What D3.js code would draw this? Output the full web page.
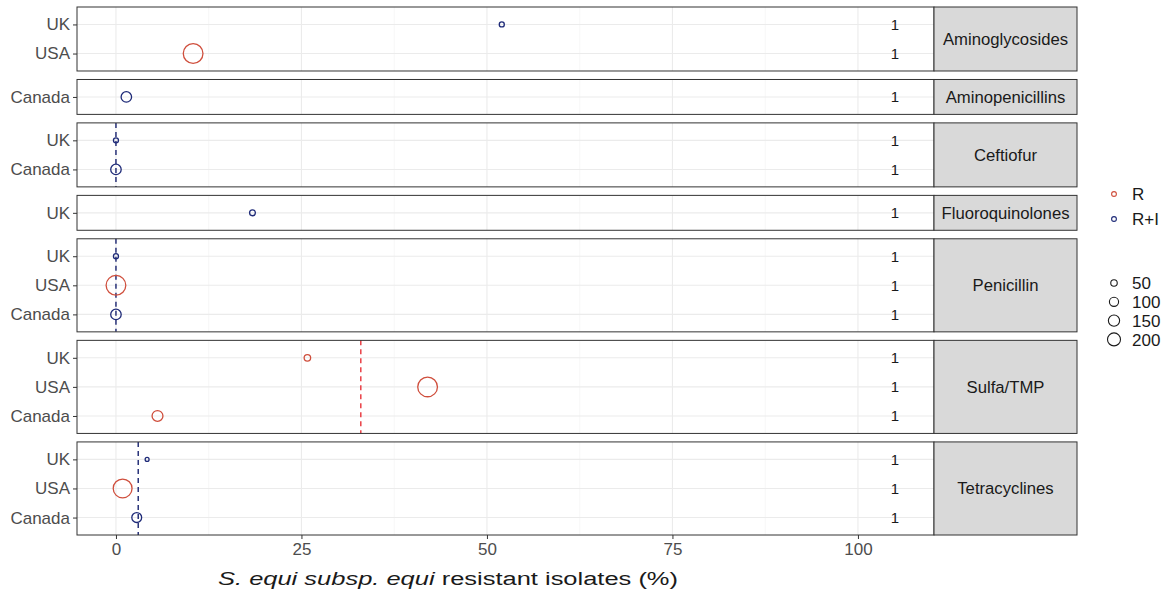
<!DOCTYPE html>
<html><head><meta charset="utf-8">
<script src="https://cdn.jsdelivr.net/npm/d3@7"></script>
<style>body{margin:0;background:#fff;} svg{display:block;font-family:"Liberation Sans",Arial,sans-serif;}</style>
</head><body>
<svg id="chart" width="1171" height="594"></svg>
<script>
// ---------- data ----------
const classes = ["Aminoglycosides","Aminopenicillins","Ceftiofur","Fluoroquinolones","Penicillin","Sulfa/TMP","Tetracyclines"];
const countryOrder = ["UK","USA","Canada"];
const pointClass   = ["Aminoglycosides","Aminoglycosides","Aminopenicillins","Ceftiofur","Ceftiofur","Fluoroquinolones","Penicillin","Penicillin","Penicillin","Sulfa/TMP","Sulfa/TMP","Sulfa/TMP","Tetracyclines","Tetracyclines","Tetracyclines"];
const pointCountry = ["UK","USA","Canada","UK","Canada","UK","UK","USA","Canada","UK","USA","Canada","UK","USA","Canada"];
const pointType    = ["R+I","R","R+I","R+I","R+I","R+I","R+I","R","R+I","R","R","R","R+I","R","R+I"];
const pointPct     = [52,10.4,1.4,0,0,18.4,0,0,0,25.8,42,5.6,4.2,0.9,2.8];
const pointN       = [30,460,130,30,130,40,30,460,130,50,460,140,18,420,115];
const rowLabel     = "1";
const labelPct     = 105;
const vlineClass   = ["Ceftiofur","Penicillin","Sulfa/TMP","Tetracyclines"];
const vlinePct     = [0,0,33,3];
const vlineType    = ["R+I","R+I","R","R+I"];
const xTicks       = [0,25,50,75,100];
const xMinor       = [12.5,37.5,62.5,87.5];
const typeLevels   = ["R","R+I"];
const sizeBreaks   = [50,100,150,200];
const xTitleItalic = "S. equi subsp. equi";
const xTitleRest   = " resistant isolates (%)";

// ---------- layout ----------
const pL = 77, pR = 934, sR = 1077, pT = 7, pB = 535, gap = 8.5;
const svg = d3.select("#chart");
const FONT = "Liberation Sans, Arial, sans-serif";

const points = pointClass.map((c,i)=>({cls:c, country:pointCountry[i], type:pointType[i], pct:pointPct[i], n:pointN[i]}));
const vlines = vlineClass.map((c,i)=>({cls:c, pct:vlinePct[i], type:vlineType[i]}));

const x = d3.scaleLinear().domain([-5.25, 110.25]).range([pL, pR]);
const color = d3.scaleOrdinal().domain(typeLevels).range(["#cf4e3c","#1e2a78"]);
const vcolor = d3.scaleOrdinal().domain(typeLevels).range(["#e8333a","#1a2470"]);
const r = d3.scaleSqrt().domain([0,200]).range([0,6.5]);

const panels = classes.map(c=>({cls:c, rows: countryOrder.filter(k=>points.some(p=>p.cls===c && p.country===k))}));
const totalUnits = d3.sum(panels, p=>p.rows.length + 0.2);
const unit = (pB - pT - gap*(panels.length-1)) / totalUnits;
let cy = pT;
panels.forEach(p=>{ p.top = cy; p.h = (p.rows.length+0.2)*unit; p.bottom = cy + p.h; cy = p.bottom + gap;
  p.y = d3.scalePoint().domain(p.rows).range([p.top, p.bottom]).padding(0.6); });

panels.forEach(p=>{
  const g = svg.append("g");
  g.append("rect").attr("x",pL).attr("y",p.top).attr("width",pR-pL).attr("height",p.h).attr("fill","#fff");
  g.selectAll(".minor").data(xMinor).join("line")
    .attr("x1",d=>x(d)).attr("x2",d=>x(d)).attr("y1",p.top).attr("y2",p.bottom)
    .attr("stroke","#f2f2f2").attr("stroke-width",0.6);
  g.selectAll(".major").data(xTicks).join("line")
    .attr("x1",d=>x(d)).attr("x2",d=>x(d)).attr("y1",p.top).attr("y2",p.bottom)
    .attr("stroke","#ebebeb").attr("stroke-width",1.1);
  g.selectAll(".hrow").data(p.rows).join("line")
    .attr("x1",pL).attr("x2",pR).attr("y1",d=>p.y(d)).attr("y2",d=>p.y(d))
    .attr("stroke","#ebebeb").attr("stroke-width",1.1);
  g.selectAll(".vl").data(vlines.filter(v=>v.cls===p.cls)).join("line")
    .attr("x1",d=>x(d.pct)).attr("x2",d=>x(d.pct)).attr("y1",p.top).attr("y2",p.bottom)
    .attr("stroke",d=>vcolor(d.type)).attr("stroke-width",1.4).attr("stroke-dasharray","5,4");
  g.selectAll(".pt").data(points.filter(d=>d.cls===p.cls)).join("circle")
    .attr("cx",d=>x(d.pct)).attr("cy",d=>p.y(d.country)).attr("r",d=>r(d.n))
    .attr("fill","none").attr("stroke",d=>color(d.type)).attr("stroke-width",1.3);
  g.selectAll(".lab").data(p.rows).join("text")
    .attr("x",x(labelPct)).attr("y",d=>p.y(d)).attr("dy","0.36em").attr("text-anchor","middle")
    .attr("font-size",15).attr("fill","#1a1a1a").text(rowLabel);
  g.append("rect").attr("x",pL).attr("y",p.top).attr("width",pR-pL).attr("height",p.h)
    .attr("fill","none").attr("stroke","#333").attr("stroke-width",1);
  g.append("rect").attr("x",pR).attr("y",p.top).attr("width",sR-pR).attr("height",p.h)
    .attr("fill","#d9d9d9").attr("stroke","#333").attr("stroke-width",1);
  g.append("text").attr("x",(pR+sR)/2).attr("y",(p.top+p.bottom)/2).attr("dy","0.36em")
    .attr("text-anchor","middle").attr("font-size",16.7).attr("fill","#1a1a1a").text(p.cls);
  const ya = d3.axisLeft(p.y).tickSize(4).tickPadding(3);
  const yg = svg.append("g").attr("transform",`translate(${pL},0)`).call(ya);
  yg.select(".domain").remove();
  yg.selectAll(".tick line").attr("stroke","#333");
  yg.selectAll(".tick text").attr("font-size",17).attr("fill","#4d4d4d").attr("font-family",FONT);
});

const xa = d3.axisBottom(x).tickValues(xTicks).tickSize(4).tickPadding(4);
const xg = svg.append("g").attr("transform",`translate(0,${pB})`).call(xa);
xg.select(".domain").remove();
xg.selectAll(".tick line").attr("stroke","#333");
xg.selectAll(".tick text").attr("font-size",17).attr("fill","#4d4d4d").attr("font-family",FONT);

const xt = svg.append("text").attr("x",448).attr("y",585).attr("text-anchor","middle")
  .attr("font-size",18).attr("fill","#1a1a1a")
  .attr("textLength",460).attr("lengthAdjust","spacingAndGlyphs");
xt.append("tspan").attr("font-style","italic").text(xTitleItalic);
xt.append("tspan").text(xTitleRest);

const lg = svg.append("g");
lg.selectAll(".lk").data(typeLevels).join("circle")
  .attr("cx",1114).attr("cy",(d,i)=>194+i*25).attr("r",2.4)
  .attr("fill","none").attr("stroke",d=>color(d)).attr("stroke-width",1.1);
lg.selectAll(".lt").data(typeLevels).join("text")
  .attr("x",1132).attr("y",(d,i)=>194+i*25).attr("dy","0.36em")
  .attr("font-size",17).attr("fill","#1a1a1a").text(d=>d);
lg.selectAll(".sk").data(sizeBreaks).join("circle")
  .attr("cx",1114).attr("cy",(d,i)=>283+i*18.8).attr("r",d=>r(d))
  .attr("fill","none").attr("stroke","#1a1a1a").attr("stroke-width",1.1);
lg.selectAll(".st").data(sizeBreaks).join("text")
  .attr("x",1132).attr("y",(d,i)=>283+i*18.8).attr("dy","0.36em")
  .attr("font-size",17).attr("fill","#1a1a1a").text(d=>d);
</script>
</body></html>
